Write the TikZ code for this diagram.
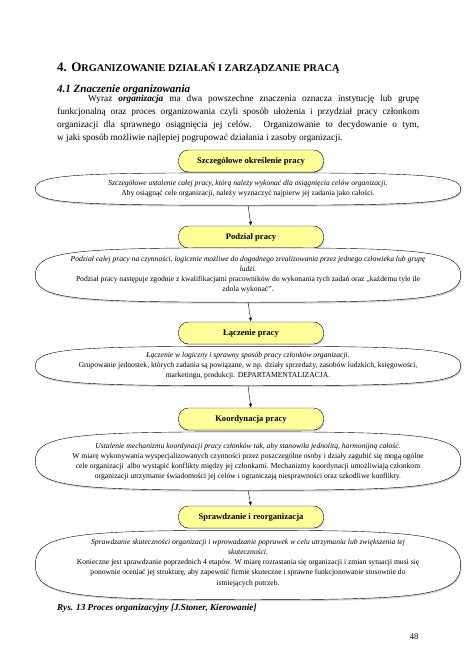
\documentclass[tikz,border=0pt]{standalone}
\usepackage{fontspec}
\setmainfont{Liberation Serif}
\definecolor{PillYellow}{RGB}{255, 255, 153}
\usetikzlibrary{arrows.meta, positioning, shapes.geometric, shadows}

\begin{document}
\begin{tikzpicture}[x=1pt, y=-1pt,
    every node/.style={font=\fontsize{7.6}{10.1}\selectfont, align=center, inner sep=0pt},
    stage/.style={draw, thin, fill=PillYellow, rounded corners=10pt, minimum width=145pt,
        minimum height=22pt, font=\fontsize{8.6}{10}\selectfont\bfseries,
        drop shadow={shadow xshift=0.8pt, shadow yshift=-1.2pt, fill=gray!70}},
    detail/.style={ellipse, minimum width=425pt},
    outline/.style={draw, thin, fill=white,
        drop shadow={shadow xshift=0.8pt, shadow yshift=-1.5pt, fill=gray!70}},
    flow/.style={-{Latex[length=4pt, width=3pt]}, thin}
]
\useasboundingbox (0,0) rectangle (474,670);
\fill[white] (0,0) rectangle (474,670);
% Heading and paragraph
\node[anchor=base west] (title) at (57,71) {\bfseries{\fontsize{13}{15}\selectfont 4. O}{\fontsize{10.3}{12}\selectfont RGANIZOWANIE DZIAŁAŃ I ZARZĄDZANIE PRACĄ}};
\node[anchor=base west, font=\fontsize{11}{13}\selectfont\bfseries\itshape] (subtitle) at (57,92) {4.1 Znaczenie organizowania};
\node[anchor=north west, text width=362pt, align=justify, font=\fontsize{9.3}{13}\selectfont] (intro) at (57,95)
    {\hspace*{31pt}Wyraz \textbf{\textit{organizacja}} ma dwa powszechne znaczenia oznacza instytucję lub grupę\linebreak
    funkcjonalną oraz proces organizowania czyli sposób ułożenia i przydział pracy członkom\linebreak
    organizacji dla sprawnego osiągnięcia jej celów. Organizowanie to decydowanie o tym,\linebreak
    w jaki sposób możliwie najlepiej pogrupować działania i zasoby organizacji.};
% Stages: pill, flattened ellipse, text
\foreach \i/\yp/\ye/\eh/\yt/\title/\body in {
    1/161/189/32/189/{Szczegółowe określenie pracy}/{\textit{Szczegółowe ustalenie całej pracy, którą należy wykonać dla osiągnięcia celów organizacji.}\\Aby osiągnąć cele organizacji, należy wyznaczyć najpierw jej zadania jako całości.},
    2/237/275/54/275/{Podział pracy}/{\textit{Podział całej pracy na czynności, logicznie możliwe do dogodnego zrealizowania przez jednego człowieka lub grupę}\\\textit{ludzi.}\\Podział pracy następuje zgodnie z kwalifikacjami pracowników do wykonania tych zadań oraz „każdemu tyle ile\\zdola wykonać”.},
    3/333/366/39/366/{Łączenie pracy}/{\textit{Łączenie w logiczny i sprawny sposób pracy członków organizacji.}\\Grupowanie jednostek, których zadania są powiązane, w np. działy sprzedaży, zasobów ludzkich, księgowości,\\marketingu, produkcji. DEPARTAMENTALIZACJA.},
    4/419/461/58/462/{Koordynacja pracy}/{\textit{Ustalenie mechanizmu koordynacji pracy członków tak, aby stanowiła jednolitą, harmonijną całość.}\\W miarę wykonywania wyspecjalizowanych czynności przez poszczególne osoby i działy zagubić się mogą ogólne\\cele organizacji~ albo wystąpić konflikty między jej członkami. Mechanizmy koordynacji umożliwiają członkom\\organizacji utrzymanie świadomości jej celów i ograniczają niesprawności oraz szkodliwe konflikty.},
    5/517/565/69/563/{Sprawdzanie i reorganizacja}/{\textit{Sprawdzanie skuteczności organizacji i wprowadzanie poprawek w celu utrzymania lub zwiększenia tej}\\\textit{skuteczności.}\\Konieczne jest sprawdzanie poprzednich 4 etapów. W miarę rozrastania się organizacji i zmian sytuacji musi się\\ponownie oceniać jej strukturę, aby zapewnić firmie skuteczne i sprawne funkcjonowanie stosownie do\\istniejących potrzeb.}} {
    \node[stage] (p\i) at (251,\yp) {\title};
    \node[detail, minimum height=\eh pt] (e\i) at (248,\ye) {};
    \path[outline] (e\i.west) .. controls +(0,-0.45*\eh) and +(-174,0) .. (e\i.north)
        .. controls +(174,0) and +(0,-0.45*\eh) .. (e\i.east)
        .. controls +(0,0.45*\eh) and +(174,0) .. (e\i.south)
        .. controls +(-174,0) and +(0,0.45*\eh) .. (e\i.west) -- cycle;
    \node (t\i) at (248,\yt) {\body};
}
% Connectors
\foreach \i/\j in {1/2, 2/3, 3/4, 4/5}
    \draw[flow] (e\i.south) -- (p\j.north);
% Caption and page number
\node[anchor=base west, font=\fontsize{9.2}{11}\selectfont\bfseries\itshape] (caption) at (57,610) {Rys. 13 Proces organizacyjny [J.Stoner, Kierowanie]};
\node[anchor=base, font=\fontsize{8.5}{10}\selectfont] (pagenum) at (414,639) {48};
\end{tikzpicture}
\end{document}
